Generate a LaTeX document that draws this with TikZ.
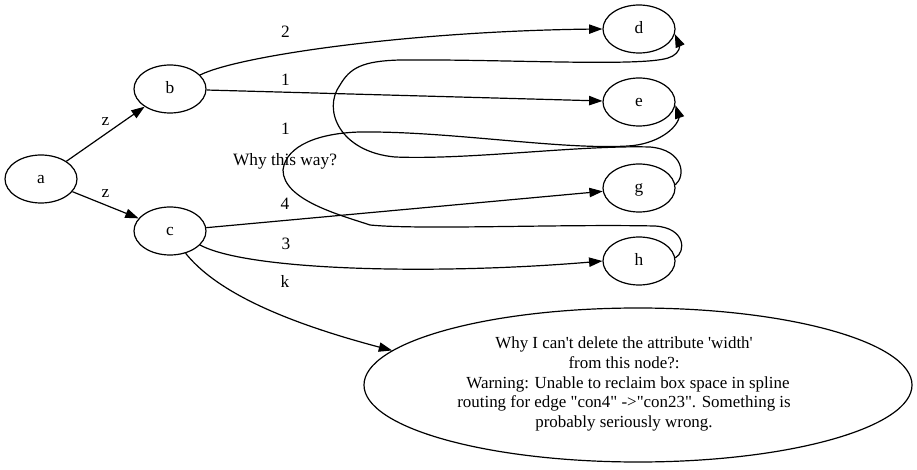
\documentclass[tikz,border=0pt]{standalone}
\usepackage{fontspec}
\setmainfont{Liberation Serif}
\usetikzlibrary{shapes.geometric,arrows.meta,bending}
\tikzset{
  gnode/.style={ellipse, draw, line width=0.9pt, minimum width=54pt, minimum height=36pt,
    inner sep=0pt, text height=9pt, text depth=1.5pt},
  bignode/.style={ellipse, draw, line width=0.9pt, minimum width=411pt, minimum height=115.5pt,
    inner sep=0pt},
  conn/.style={draw, line width=0.9pt, -{Triangle[length=10pt,width=7pt,flex]}},
  elabel/.style={anchor=base, inner sep=0pt},
}
\begin{document}
\begin{tikzpicture}[x=0.75pt, y=-0.75pt, font=\fontsize{13}{15}\selectfont]
\useasboundingbox (0,0) rectangle (917,470);

% nodes
\node[gnode] (a) at (41,179) {a};
\node[gnode] (b) at (170,89) {b};
\node[gnode] (c) at (170,231) {c};
\node[gnode] (d) at (639,29) {d};
\node[gnode] (e) at (639,102) {e};
\node[gnode] (g) at (639,188) {g};
\node[gnode] (h) at (639,261) {h};
\node[bignode] (big) at (638,385) {};
\node[align=center, inner sep=0pt, font=\fontsize{12.7}{14.8}\selectfont] (bigtext) at (624,384)
  {Why I can\textquotesingle t delete the attribute \textquotesingle width\textquotesingle\\
   from this node?:\\
   \hspace*{6pt}Warning: Unable to reclaim box space in spline\\
   routing for edge \textquotedbl con4\textquotedbl\ -{}>\textquotedbl con23\textquotedbl . Something is\\
   probably seriously wrong.};

% straight edges
\path[conn] (a) -- (b);
\path[conn] (a) -- (c);
\path[conn] (b) -- (e);
\path[conn] (c) -- (g);

% curved edges
\path[conn] (b.25) .. controls (240,55) and (420,30) .. (d.west);
\path[conn] (c.-25) .. controls (250,272) and (450,275) .. (h.west);
\path[conn] (c.-55) .. controls (215,290) and (280,322) .. (big.172.6);

% backward loops
\path[conn] (g.5) .. controls (686,176) and (684,150) .. (650,147)
  .. controls (580,145) and (470,160) .. (395,157)
  .. controls (340,152) and (322,110) .. (340,85)
  .. controls (350,68) and (362,61) .. (400,60)
  .. controls (500,59) and (640,67) .. (668,58)
  .. controls (678,55) and (685,46) .. (d.-8);

\path[conn] (h.5) .. controls (686,252) and (686,228) .. (655,226)
  .. controls (560,224) and (420,230) .. (370,225)
  .. controls (340,215) and (283,200) .. (283,170)
  .. controls (286,145) and (320,133) .. (360,132)
  .. controls (450,131) and (560,150) .. (628,146)
  .. controls (665,144) and (690,118) .. (e.-5);

% edge labels
\node[elabel] (lab1) at (105.5,126) {z};
\node[elabel] (lab2) at (105.5,198) {z};
\node[elabel] (lab3) at (285.5,38) {2};
\node[elabel] (lab4) at (285.5,86) {1};
\node[elabel] (lab5) at (285.5,135) {1};
\node[elabel] (lab6) at (285,166) {Why this way?};
\node[elabel] (lab7) at (285,210) {4};
\node[elabel] (lab8) at (286,250) {3};
\node[elabel] (lab9) at (285,287) {k};
\end{tikzpicture}
\end{document}
